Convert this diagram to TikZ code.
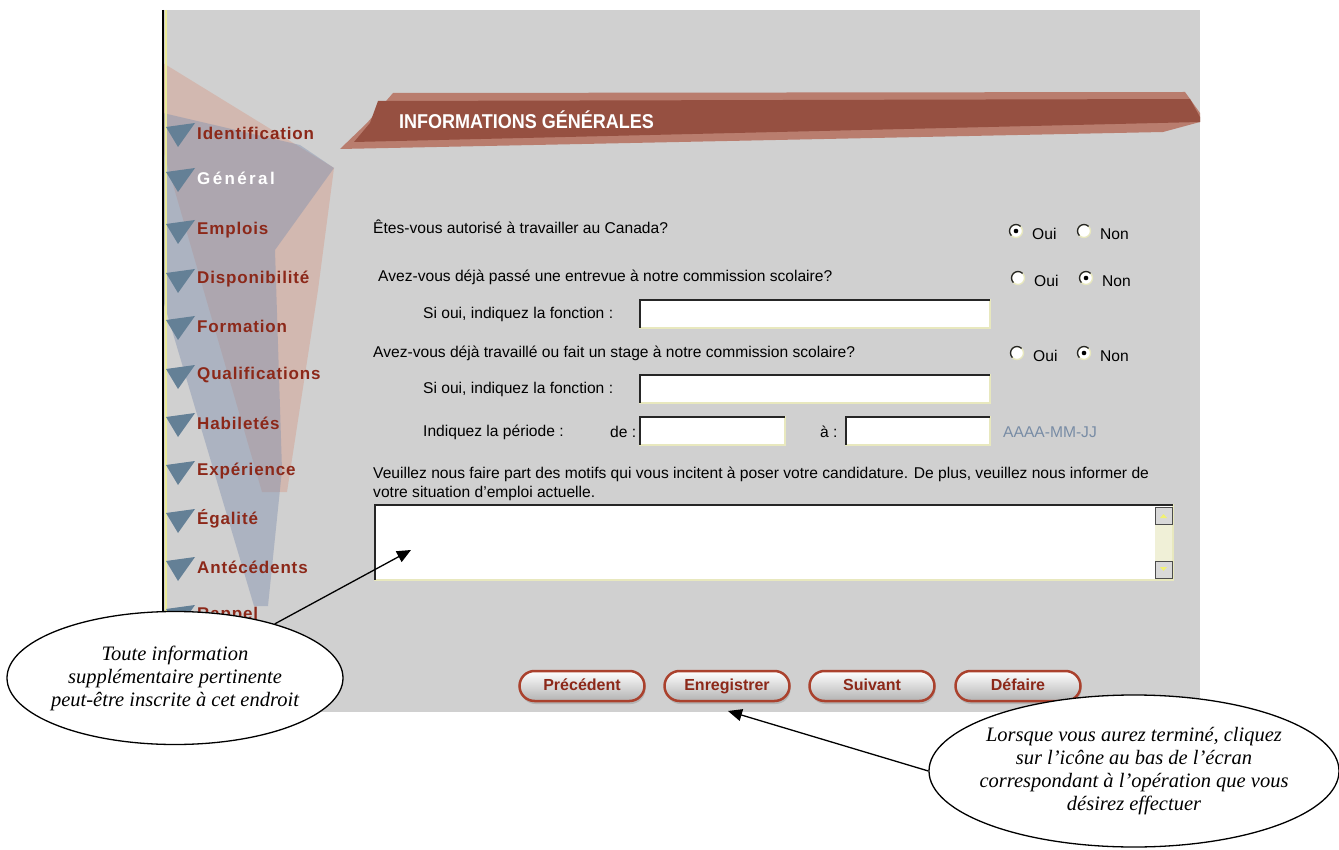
\documentclass[tikz,border=0pt]{standalone}
\usepackage{fontspec}
\setmainfont{Liberation Sans}
\newfontfamily\navfont[LetterSpace=5]{Liberation Sans}
\newfontfamily\navlarge[LetterSpace=14]{Liberation Sans}
\newfontfamily\titrefont[FakeStretch=0.9]{Liberation Sans}
\newfontfamily\notefont{Liberation Serif}
\usetikzlibrary{shapes.geometric,arrows.meta,shadows}

\definecolor{fond}{RGB}{208,208,208}
\definecolor{brique}{RGB}{150,80,65}
\definecolor{briqueclair}{RGB}{185,125,110}
\definecolor{rougenav}{RGB}{140,40,25}
\definecolor{bleunav}{RGB}{100,128,150}
\definecolor{saumon}{RGB}{214,150,130}
\definecolor{bleudecor}{RGB}{130,145,175}
\definecolor{jaunebord}{RGB}{232,232,190}
\definecolor{jaunepale}{RGB}{240,240,215}
\definecolor{bleudate}{RGB}{120,140,165}
\definecolor{bordbouton}{RGB}{170,65,45}

\newcommand{\qfont}{\fontsize{15.6}{18}\selectfont}
%champ de saisie: coin haut-gauche, coin bas-droit
\newcommand{\champ}[4]{%
  \draw[fill=white,draw=jaunebord,line width=1.5pt](#1,#2)rectangle(#3,#4);
  \draw[black!85,line width=1.5pt](#1,#4)--(#1,#2)--(#3,#2);}
%bouton radio
\newcommand{\radio}[2]{%
  \draw[fill=white,draw=jaunebord,line width=1.3pt](#1,#2)circle[radius=6.5pt];
  \draw[black!85,line width=1.3pt](#1,#2)++(45:6.5pt)arc[start angle=45,end angle=225,radius=6.5pt];}
\newcommand{\coche}[2]{\fill(#1,#2)circle[radius=2.3pt];}

\tikzset{
  navlabel/.style={anchor=west,inner sep=0,text=rougenav,font=\navfont\bfseries\fontsize{17}{19}\selectfont},
  question/.style={anchor=west,inner sep=0,font=\qfont},
  bouton/.style={draw=bordbouton,line width=2.5pt,rounded corners=15pt,minimum width=125pt,minimum height=30pt,
    text height=11.5pt,text depth=3.5pt,
    top color=white,bottom color=gray!60,text=rougenav,font=\bfseries\fontsize{16}{18}\selectfont,
    drop shadow={opacity=.35,shadow xshift=1pt,shadow yshift=-3pt}},
  note/.style={ellipse,draw,line width=1.3pt,fill=white,align=center,inner xsep=-30pt,inner ysep=0pt,
    font=\notefont\itshape\fontsize{20.5}{23}\selectfont},
  fleche/.style={-{Triangle[length=14pt,width=12pt]},line width=1.3pt},
}

\begin{document}
\begin{tikzpicture}[x=1pt,y=-1pt]
  \useasboundingbox(0,0)rectangle(1339,850);
  \fill[white](0,0)rectangle(1339,850);
  %fond de l'écran
  \fill[fond](163,10)rectangle(1200,712);
  %décor du menu
  \fill[saumon,opacity=.4](163,63)--(334,168)--(318,290)--(287,492)--(262,492)--(163,150)--cycle;
  \fill[bleudecor,opacity=.45](163,113)--(300,145)--(334,168)--(275,250)--(282,470)--(268,606)--(254,606)--(163,300)--cycle;
  \draw[jaunebord!80!yellow,line width=2pt](165.5,10)--(165.5,712); %bord gauche
  \draw[black,line width=1.5pt](163,10)--(163,712);
  %menu de gauche
  \foreach \y/\etiq in {133/Identification,230/Emplois,279/Disponibilité,326/Formation,375/Qualifications,
      423/Habiletés,471/Expérience,519/Égalité,567/Antécédents,615/Rappel}{
    \fill[bleunav](166,\y-6)--(195,\y-10)--(178,\y+14)--cycle;
    \node[navlabel](nav\y) at (197,\y) {\etiq};
  }
  \fill[bleunav](166,172)--(195,168)--(178,192)--cycle;
  \node[navlabel,text=white,font=\navlarge\bfseries\fontsize{17}{19}\selectfont](navgeneral) at (197,178) {Général};
  %bandeau du titre
  \fill[briqueclair](393,93)--(1185,92)--(1200,113)--(1200,122)--(1163,132)--(340,149)--(367,123)--cycle;
  \fill[brique](378,101)--(1190,99)--(1200,117)--(1200,122)--(354,142)--(370,123)--cycle;
  \node[anchor=west,inner sep=0,text=white,font=\titrefont\bfseries\fontsize{20}{22}\selectfont](titre) at (399,120) {INFORMATIONS GÉNÉRALES};
  %questions
  \node[question](q1) at (373,227) {Êtes-vous autorisé à travailler au Canada?};
  \radio{1016}{231}\coche{1016}{231}
  \node[question](q1oui) at (1032,234) {Oui};
  \radio{1084}{231}
  \node[question](q1non) at (1100,234) {Non};
  \node[question](q2) at (378,277) {Avez-vous déjà passé une entrevue à notre commission scolaire?};
  \radio{1018}{278}
  \node[question](q2oui) at (1034,281) {Oui};
  \radio{1086}{278}\coche{1086}{278}
  \node[question](q2non) at (1102,281) {Non};
  \node[question](f1) at (423,314) {Si oui, indiquez la fonction :};
  \champ{640}{300}{990}{328}
  \node[question](q3) at (373,353) {Avez-vous déjà travaillé ou fait un stage à notre commission scolaire?};
  \radio{1017}{353}
  \node[question](q3oui) at (1033,356) {Oui};
  \radio{1084}{353}\coche{1084}{353}
  \node[question](q3non) at (1100,356) {Non};
  \node[question](f2) at (423,389) {Si oui, indiquez la fonction :};
  \champ{640}{375}{990}{403}
  \node[question](periode) at (423,432) {Indiquez la période :};
  \node[question](de) at (610,432) {de :};
  \champ{640}{417}{785}{445}
  \node[question](a) at (820,432) {à :};
  \champ{846}{417}{990}{445}
  \node[question,text=bleudate](format) at (1003,432) {AAAA-MM-JJ};
  \node[question](motifs1) at (373,474) {Veuillez nous faire part des motifs qui vous incitent à poser votre candidature. De plus, veuillez nous informer de};
  \node[question](motifs2) at (373,493) {votre situation d'emploi actuelle.};
  %zone de texte
  \champ{375}{505}{1173}{580}
  \fill[jaunepale](1155,507)rectangle(1172,578);
  \draw[fill=fond!80!white,draw=black!70](1155,507)rectangle(1172,524);
  \fill[jaunebord!60!yellow](1160,518)--(1167,518)--(1163.5,514)--cycle;
  \draw[fill=fond!80!white,draw=black!70](1155,561)rectangle(1172,578);
  \fill[jaunebord!60!yellow](1160,567)--(1167,567)--(1163.5,571)--cycle;
  %boutons
  \node[bouton](precedent) at (582,686) {Précédent};
  \node[bouton](enregistrer) at (727,686) {Enregistrer};
  \node[bouton](suivant) at (872,686) {Suivant};
  \node[bouton](defaire) at (1018,686) {Défaire};
  %bulles
  \node[note,minimum width=336pt,minimum height=133pt](noteGauche) at (175,678)
    {Toute information\\supplémentaire pertinente\\peut-être inscrite à cet endroit};
  \node[note,minimum width=410pt,minimum height=152pt](noteDroite) at (1134,771)
    {Lorsque vous aurez terminé, cliquez\\sur l’icône au bas de l’écran\\correspondant à l’opération que vous\\désirez effectuer};
  \coordinate(cibleZone) at (411,550);
  \coordinate(cibleBoutons) at (728,711);
  \draw[fleche](noteGauche)--(cibleZone);
  \draw[fleche](noteDroite.west)--(cibleBoutons);
\end{tikzpicture}
\end{document}
